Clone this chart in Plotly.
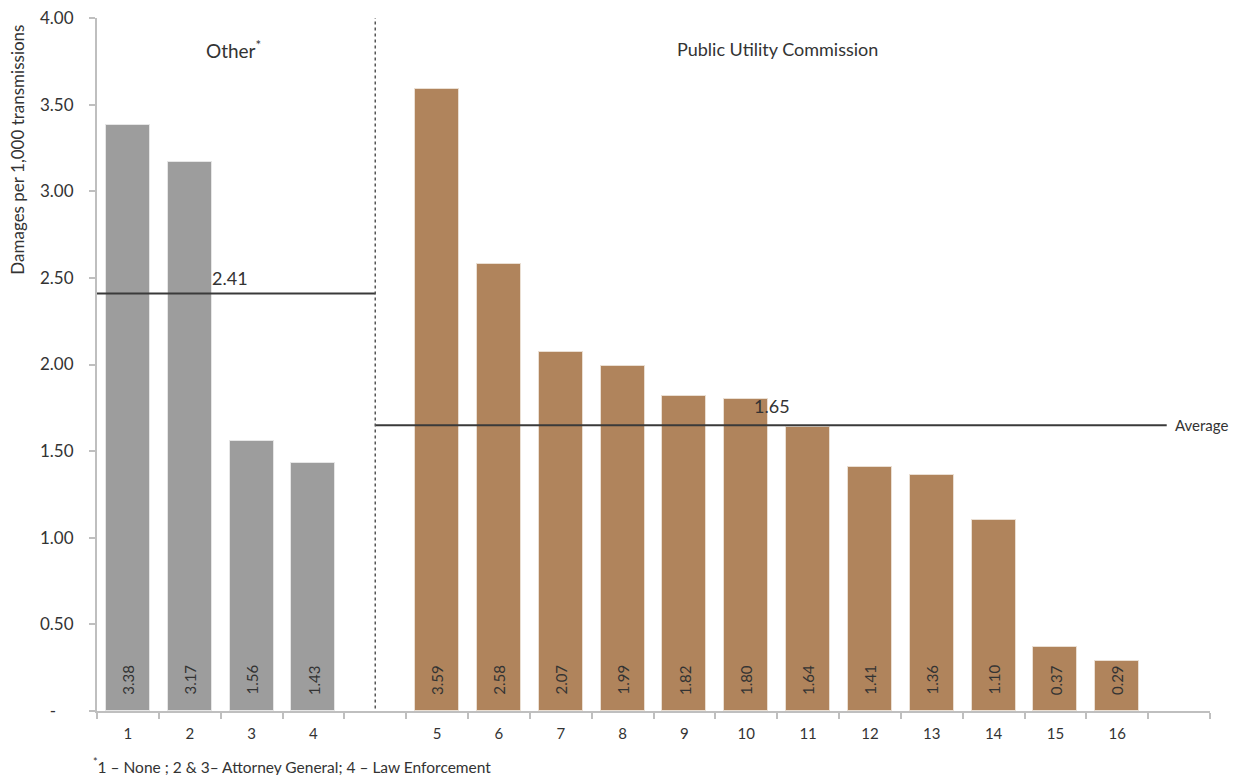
import plotly.graph_objects as go

# Damages per 1,000 transmissions by state, grouped by enforcing body
other_labels = ["1", "2", "3", "4"]
other_values = [3.38, 3.17, 1.56, 1.43]
puc_labels = ["5", "6", "7", "8", "9", "10", "11", "12", "13", "14", "15", "16"]
puc_values = [3.59, 2.58, 2.07, 1.99, 1.82, 1.80, 1.64, 1.41, 1.36, 1.10, 0.37, 0.29]
other_avg = 2.41
puc_avg = 1.65

y_ticks = [0, 0.5, 1.0, 1.5, 2.0, 2.5, 3.0, 3.5, 4.0]
y_tick_text = ["-\u00a0\u00a0\u00a0\u00a0", "0.50", "1.00", "1.50", "2.00", "2.50", "3.00", "3.50", "4.00"]

FONT = "Lato"
TXT = "#333333"
GRAY = "#9d9d9d"
BROWN = "#b0845c"

# slot layout: 4 "Other" slots, one blank separator slot, 12 PUC slots, one blank slot
other_x = list(range(len(other_labels)))
sep_x = len(other_labels)
puc_x = [sep_x + 1 + i for i in range(len(puc_labels))]
n_slots = len(other_labels) + 1 + len(puc_labels) + 1

fig = go.Figure()
fig.add_trace(go.Bar(x=other_x, y=other_values, width=0.71,
                     marker=dict(color=GRAY, line=dict(color="#e6e6e6", width=1)),
                     hoverinfo="skip"))
fig.add_trace(go.Bar(x=puc_x, y=puc_values, width=0.71,
                     marker=dict(color=BROWN, line=dict(color="#eadfd3", width=1)),
                     hoverinfo="skip"))

# group average lines
fig.add_trace(go.Scatter(x=[-0.5, sep_x], y=[other_avg, other_avg], mode="lines",
                         line=dict(color="#3a3a3a", width=2), hoverinfo="skip"))
fig.add_trace(go.Scatter(x=[sep_x, n_slots - 1.2], y=[puc_avg, puc_avg], mode="lines",
                         line=dict(color="#3a3a3a", width=2), hoverinfo="skip"))

annotations = []
# rotated value labels near the base of each bar
for xs, vals in ((other_x, other_values), (puc_x, puc_values)):
    for x, v in zip(xs, vals):
        annotations.append(dict(x=x, y=0.18, xref="x", yref="y", text=f"{v:.2f}",
                                textangle=-90, showarrow=False,
                                font=dict(family=FONT, size=15, color=TXT)))

annotations += [
    dict(x=1.65, y=other_avg + 0.09, xref="x", yref="y", text=f"{other_avg:.2f}",
         showarrow=False, font=dict(family=FONT, size=18, color=TXT)),
    dict(x=10.42, y=puc_avg + 0.11, xref="x", yref="y", text=f"{puc_avg:.2f}",
         showarrow=False, font=dict(family=FONT, size=18, color=TXT)),
    dict(x=n_slots - 1.1, y=puc_avg, xref="x", yref="y", text="Average",
         xanchor="left", showarrow=False, font=dict(family=FONT, size=15, color=TXT)),
    dict(x=1.7, y=3.82, xref="x", yref="y", text="Other<sup>*</sup>",
         showarrow=False, font=dict(family=FONT, size=19, color=TXT)),
    dict(x=10.5, y=3.82, xref="x", yref="y", text="Public Utility Commission",
         showarrow=False, font=dict(family=FONT, size=18, color=TXT)),
    dict(x=-0.071, y=0.81, xref="paper", yref="paper", xanchor="center", yanchor="middle",
         text="Damages per 1,000 transmissions",
         textangle=-90, showarrow=False, font=dict(family=FONT, size=17, color=TXT)),
    dict(x=-0.005, y=-0.079, xref="paper", yref="paper", xanchor="left", yanchor="middle",
         text="<sup>*</sup>1 \u2013 None ; 2 &amp; 3\u2013 Attorney General; 4 \u2013 Law Enforcement",
         showarrow=False, font=dict(family=FONT, size=15.5, color=TXT)),
]

fig.update_layout(
    width=1243, height=775,
    margin=dict(l=97, r=33, t=18, b=64),
    paper_bgcolor="white", plot_bgcolor="white",
    showlegend=False, bargap=0,
    annotations=annotations,
    shapes=[dict(type="line", xref="x", yref="y", x0=sep_x, x1=sep_x, y0=-0.02, y1=4.0,
                 line=dict(color="#555555", width=1.5, dash="dot"))],
    xaxis=dict(
        range=[-0.5, n_slots - 0.5], showgrid=False, zeroline=False, automargin=False,
        showline=True, linecolor="#bfbfbf", linewidth=2,
        tickmode="array", tickvals=other_x + puc_x, ticktext=other_labels + puc_labels,
        ticks="", ticklabelstandoff=8,
        tickfont=dict(family=FONT, size=15, color=TXT),
        minor=dict(tickmode="array", tickvals=[i - 0.5 for i in range(n_slots + 1)],
                   ticks="outside", ticklen=6, tickcolor="#bfbfbf", tickwidth=1.5,
                   showgrid=False),
    ),
    yaxis=dict(
        range=[0, 4.0], showgrid=False, zeroline=False, automargin=False,
        showline=True, linecolor="#bfbfbf", linewidth=2,
        tickmode="array", tickvals=y_ticks, ticktext=y_tick_text,
        ticks="outside", ticklen=6, tickcolor="#bfbfbf", tickwidth=1.5,
        ticklabelstandoff=12,
        tickfont=dict(family=FONT, size=17, color=TXT),
    ),
)

fig.write_html("out.html")
